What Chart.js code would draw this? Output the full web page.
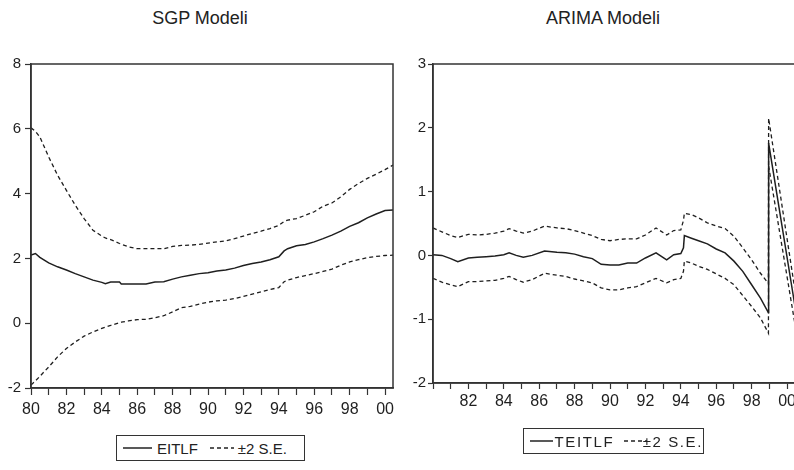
<!DOCTYPE html>
<html>
<head>
<meta charset="utf-8">
<script src="https://cdn.jsdelivr.net/npm/chart.js@4/dist/chart.umd.min.js"></script>
<style>
  html, body { margin: 0; padding: 0; width: 794px; height: 470px; overflow: hidden; background: #fff; }
  body { position: relative; font-family: "Liberation Sans", Arial, sans-serif; color: #222; }
  canvas { position: absolute; top: 0; }
  #sgp { left: 0; }
  #arima { left: 390px; }
  .title { position: absolute; top: 8px; font-size: 18px; transform: translateX(-50%); white-space: nowrap; }
  .legend { position: absolute; box-sizing: border-box; border: 1px solid #333; height: 26px;
            display: flex; align-items: center; font-size: 15px; white-space: nowrap; }
  .legend svg { display: block; }
</style>
</head>
<body>
<div class="title" style="left:200px">SGP Modeli</div>
<div class="title" style="left:603px">ARIMA Modeli</div>

<canvas id="sgp" width="400" height="420"></canvas>
<canvas id="arima" width="420" height="420"></canvas>

<div class="legend" style="left:116px;top:435px;width:189px;">
  <svg width="34" height="10" style="margin-left:6px"><line x1="0" y1="5" x2="29" y2="5" stroke="#222" stroke-width="1.5"/></svg>
  <span>EITLF</span>
  <svg width="34" height="10" style="margin-left:12px"><line x1="0" y1="5" x2="24" y2="5" stroke="#222" stroke-width="1.4" stroke-dasharray="4 3"/></svg>
  <span style="margin-left:-6px">±2 S.E.</span>
</div>
<div class="legend" style="left:523px;top:428px;width:181px;overflow:visible;letter-spacing:1.6px;">
  <svg width="34" height="10" style="margin-left:6px"><line x1="0" y1="5" x2="29" y2="5" stroke="#222" stroke-width="1.5"/></svg>
  <span style="margin-left:2px">TEITLF</span>
  <svg width="34" height="10" style="margin-left:10px"><line x1="0" y1="5" x2="27" y2="5" stroke="#222" stroke-width="1.4" stroke-dasharray="4 3"/></svg>
  <span style="margin-left:-4px">±2 S.E.</span>
</div>

<script>
// ---- SGP model: fitted EITLF and ±2 standard-error band ----
const sgpYears = [1980, 1980.25, 1980.5, 1981, 1981.5, 1982, 1982.5, 1983, 1983.5, 1984, 1984.2, 1984.5, 1985, 1985.1,
  1985.5, 1986, 1986.5, 1987, 1987.5, 1988, 1988.5, 1989, 1989.5, 1990, 1990.5, 1991, 1991.5, 1992, 1992.5,
  1993, 1993.5, 1994, 1994.3, 1994.5, 1995, 1995.5, 1996, 1996.5, 1997, 1997.5, 1998, 1998.5, 1999, 1999.5, 2000, 2000.45];
const sgpFit = [2.10, 2.15, 2.03, 1.86, 1.74, 1.64, 1.53, 1.43, 1.33, 1.26, 1.22, 1.27, 1.27, 1.21,
  1.21, 1.21, 1.21, 1.27, 1.28, 1.36, 1.43, 1.48, 1.53, 1.56, 1.61, 1.64, 1.70, 1.78, 1.84,
  1.89, 1.96, 2.05, 2.23, 2.30, 2.39, 2.43, 2.51, 2.61, 2.72, 2.84, 2.99, 3.10, 3.25, 3.37, 3.48, 3.49];
const sgpUpper = [6.03, 5.92, 5.75, 5.13, 4.57, 4.10, 3.64, 3.23, 2.87, 2.69, 2.63, 2.58, 2.46, 2.44,
  2.36, 2.30, 2.30, 2.30, 2.30, 2.37, 2.40, 2.41, 2.43, 2.47, 2.51, 2.54, 2.61, 2.69, 2.77,
  2.84, 2.92, 3.02, 3.14, 3.18, 3.23, 3.33, 3.44, 3.61, 3.71, 3.90, 4.13, 4.31, 4.47, 4.60, 4.74, 4.88];
const sgpLower = [-1.91, -1.78, -1.64, -1.35, -1.04, -0.78, -0.58, -0.40, -0.27, -0.16, -0.12, -0.07, 0.02, 0.03,
  0.07, 0.11, 0.12, 0.17, 0.23, 0.35, 0.48, 0.52, 0.59, 0.65, 0.69, 0.71, 0.76, 0.83, 0.90,
  0.97, 1.04, 1.10, 1.28, 1.33, 1.41, 1.47, 1.53, 1.60, 1.67, 1.79, 1.89, 1.96, 2.02, 2.06, 2.09, 2.10];

// ---- ARIMA model: forecast TEITLF and ±2 standard-error band ----
const arimaYears = [1980, 1980.5, 1981, 1981.4, 1982, 1982.5, 1983, 1983.5, 1984, 1984.3, 1984.7, 1985.1, 1985.6,
  1986.3, 1987, 1987.5, 1988, 1988.5, 1989, 1989.5, 1990, 1990.5, 1991, 1991.5, 1992, 1992.6, 1993.2, 1993.6,
  1994, 1994.15, 1994.2, 1994.6, 1995, 1995.5, 1996, 1996.5, 1997, 1997.5, 1998, 1998.5, 1998.95, 1998.96,
  2000.45];
const arimaFit = [0.01, 0.00, -0.05, -0.10, -0.04, -0.03, -0.02, -0.01, 0.01, 0.04, 0.00, -0.03, 0.00,
  0.07, 0.05, 0.04, 0.02, -0.02, -0.05, -0.14, -0.15, -0.15, -0.12, -0.12, -0.04, 0.04, -0.07, 0.01,
  0.03, 0.12, 0.31, 0.27, 0.23, 0.18, 0.10, 0.04, -0.09, -0.25, -0.46, -0.67, -0.90, 1.76,
  -0.80];
const arimaUpper = [0.43, 0.37, 0.31, 0.28, 0.33, 0.32, 0.33, 0.35, 0.38, 0.42, 0.38, 0.35, 0.38,
  0.46, 0.43, 0.42, 0.39, 0.35, 0.31, 0.25, 0.23, 0.25, 0.26, 0.26, 0.32, 0.43, 0.32, 0.39,
  0.40, 0.55, 0.66, 0.64, 0.59, 0.51, 0.46, 0.42, 0.30, 0.12, -0.07, -0.28, -0.44, 2.15,
  -0.55];
const arimaLower = [-0.36, -0.42, -0.46, -0.49, -0.41, -0.41, -0.40, -0.39, -0.36, -0.33, -0.38, -0.42, -0.38,
  -0.28, -0.31, -0.33, -0.37, -0.40, -0.43, -0.51, -0.54, -0.54, -0.51, -0.49, -0.43, -0.36, -0.43, -0.38,
  -0.36, -0.25, -0.09, -0.12, -0.17, -0.22, -0.29, -0.36, -0.46, -0.63, -0.80, -0.98, -1.22, 1.40,
  -1.08];

const INK = '#1f1f1f';
const FONT = '"Liberation Sans", Arial, sans-serif';

const pts = (xs, ys) => xs.map((x, i) => ({ x, y: ys[i] }));

// closed box around the plot area
const frame = {
  id: 'frame',
  afterDatasetsDraw(chart) {
    const a = chart.chartArea, g = chart.ctx;
    g.save();
    g.strokeStyle = '#333';
    g.lineWidth = 1.5;
    g.strokeRect(a.left, a.top, a.right - a.left, a.bottom - a.top);
    g.restore();
  }
};

function series(xs, ys, dashed) {
  return {
    data: pts(xs, ys),
    borderColor: INK,
    borderWidth: dashed ? 1.3 : 1.5,
    borderDash: dashed ? [4, 3] : [],
    pointRadius: 0,
    tension: 0,
    fill: false
  };
}

function build(id, o) {
  return new Chart(document.getElementById(id), {
    type: 'line',
    data: { datasets: [
      series(o.xs, o.upper, true),
      series(o.xs, o.lower, true),
      series(o.xs, o.fit, false)
    ] },
    options: {
      responsive: false,
      animation: false,
      devicePixelRatio: 1,
      layout: { padding: { top: 64, right: o.padRight, left: 0, bottom: 0 } },
      plugins: { legend: { display: false }, tooltip: { enabled: false }, title: { display: false } },
      scales: {
        x: {
          type: 'linear', min: 1980, max: 2000.45,
          ticks: {
            stepSize: 1, includeBounds: false, autoSkip: false, maxRotation: 0, minRotation: 0,
            padding: o.xPad, color: INK, font: { family: FONT, size: 16 },
            callback: v => {
              if (!Number.isInteger(v) || v % 2 !== 0) return '';
              if (o.skipFirst && v === 1980) return '';
              return String(v % 100).padStart(2, '0');
            }
          },
          grid: { drawOnChartArea: false, drawTicks: true, tickLength: o.xTick, tickColor: '#333', tickWidth: 1.2 },
          border: { color: '#333', width: 1.5 },
          afterFit: s => { s.height = o.xHeight; }
        },
        y: {
          min: o.yMin, max: o.yMax,
          ticks: { stepSize: o.yStep, padding: o.yPad, color: INK, font: { family: FONT, size: 15 } },
          grid: { drawOnChartArea: false, drawTicks: true, tickLength: o.yTick, tickColor: '#333', tickWidth: 1.2 },
          border: { color: '#333', width: 1.5 },
          afterFit: s => { s.width = o.yWidth; }
        }
      }
    },
    plugins: [frame]
  });
}

build('sgp', {
  xs: sgpYears, fit: sgpFit, upper: sgpUpper, lower: sgpLower,
  yMin: -2, yMax: 8, yStep: 2, yWidth: 31, yTick: 6, yPad: 4,
  xHeight: 32, xTick: 7, xPad: 5, padRight: 7, skipFirst: false
});

build('arima', {
  xs: arimaYears, fit: arimaFit, upper: arimaUpper, lower: arimaLower,
  yMin: -2, yMax: 3, yStep: 1, yWidth: 43, yTick: 5, yPad: 2,
  xHeight: 37, xTick: 6, xPad: 3, padRight: 15, skipFirst: true
});
</script>
</body>
</html>
